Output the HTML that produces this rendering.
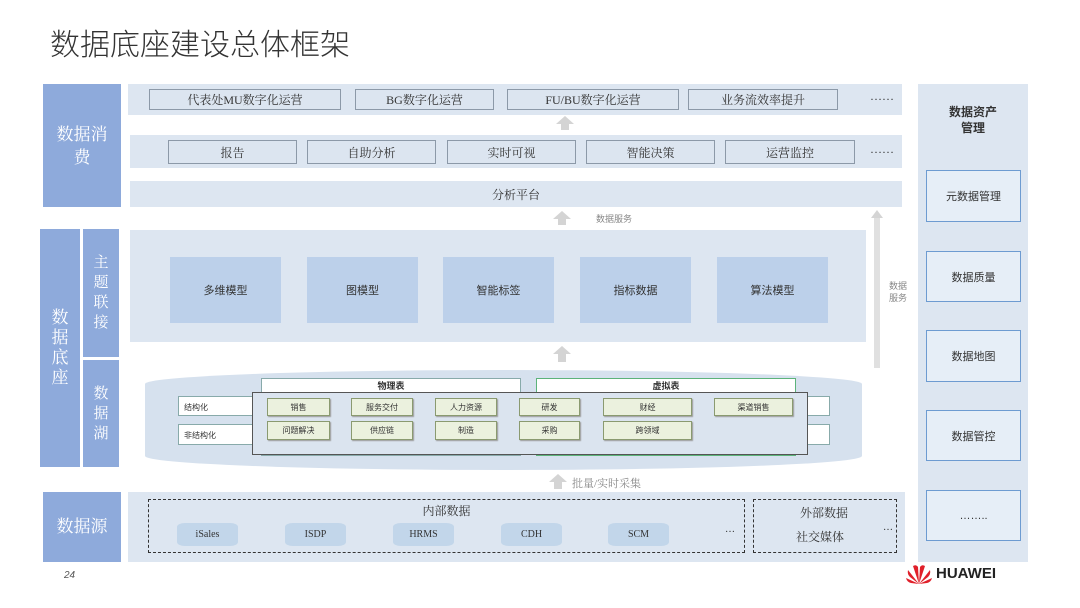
<!DOCTYPE html>
<html><head><meta charset="utf-8"><style>
*{margin:0;padding:0;box-sizing:border-box}
body{width:1080px;height:608px;background:#fff;position:relative;overflow:hidden;font-family:"Liberation Serif","Noto Serif CJK SC",serif;color:#333}
.a{position:absolute}
.lab{position:absolute;background:#8eaadb;color:#fff;display:flex;align-items:center;justify-content:center;text-align:center;font-size:17px;line-height:20px}
.pan{position:absolute;background:#dde6f1}
.bx{position:absolute;background:#dce5f0;border:1px solid #8c99a8;display:flex;align-items:center;justify-content:center;font-size:12px;color:#333}
.mb{position:absolute;background:#bcd0ea;display:flex;align-items:center;justify-content:center;font-size:11px;font-family:"Liberation Sans","Noto Sans CJK SC",sans-serif}
.g{position:absolute;background:#ebf1de;border:1px solid #8a9a70;display:flex;align-items:center;justify-content:center;font-size:8px;font-family:"Liberation Sans","Noto Sans CJK SC",sans-serif;box-shadow:1px 1px 1px #999}
.rb{position:absolute;left:926px;width:95px;border:1px solid #6d9bd1;display:flex;align-items:center;justify-content:center;font-size:11px;font-family:"Liberation Sans","Noto Sans CJK SC",sans-serif;background:#e6eef7}
.cyl{position:absolute;width:61px;height:23px;background:#c2d6ea;border-radius:8px/4px;display:flex;align-items:center;justify-content:center;font-size:10px}
.arr{position:absolute;width:0;height:0;border-left:9px solid transparent;border-right:9px solid transparent;border-bottom:8px solid #d4d4d4}
.arrs{position:absolute;width:8px;height:6px;background:#d4d4d4}
.s{font-family:"Liberation Sans","Noto Sans CJK SC",sans-serif}
</style></head><body>
<div class="a" style="left:50px;top:20px;font-size:30px;color:#333;font-family:'Liberation Sans','Noto Sans CJK SC',sans-serif;font-weight:300">数据底座建设总体框架</div>

<div class="lab" style="left:43px;top:84px;width:78px;height:123px;line-height:23px">数据消<br>费</div>
<div class="lab" style="left:40px;top:229px;width:40px;height:238px">数<br>据<br>底<br>座</div>
<div class="lab" style="left:83px;top:229px;width:36px;height:128px;font-size:15px">主<br>题<br>联<br>接</div>
<div class="lab" style="left:83px;top:360px;width:36px;height:107px;font-size:15px">数<br>据<br>湖</div>
<div class="lab" style="left:43px;top:492px;width:78px;height:70px">数据源</div>

<div class="pan" style="left:128px;top:84px;width:774px;height:31px"></div>
<div class="bx" style="left:149px;top:89px;width:192px;height:21px">代表处MU数字化运营</div>
<div class="bx" style="left:355px;top:89px;width:139px;height:21px">BG数字化运营</div>
<div class="bx" style="left:507px;top:89px;width:172px;height:21px">FU/BU数字化运营</div>
<div class="bx" style="left:688px;top:89px;width:150px;height:21px">业务流效率提升</div>
<div class="a" style="left:870px;top:89px;font-size:12px">……</div>
<div class="arr" style="left:556px;top:116px"></div><div class="arrs" style="left:561px;top:124px"></div>

<div class="pan" style="left:130px;top:135px;width:772px;height:33px"></div>
<div class="bx" style="left:168px;top:140px;width:129px;height:24px">报告</div>
<div class="bx" style="left:307px;top:140px;width:129px;height:24px">自助分析</div>
<div class="bx" style="left:447px;top:140px;width:129px;height:24px">实时可视</div>
<div class="bx" style="left:586px;top:140px;width:129px;height:24px">智能决策</div>
<div class="bx" style="left:725px;top:140px;width:130px;height:24px">运营监控</div>
<div class="a" style="left:870px;top:142px;font-size:12px">……</div>

<div class="pan" style="left:130px;top:181px;width:772px;height:26px;display:flex;align-items:center;justify-content:center;font-size:12px">分析平台</div>
<div class="arr" style="left:553px;top:211px"></div><div class="arrs" style="left:558px;top:219px"></div>
<div class="a s" style="left:596px;top:212px;font-size:9px;color:#888">数据服务</div>

<div class="pan" style="left:130px;top:230px;width:736px;height:112px"></div>
<div class="mb" style="left:170px;top:257px;width:111px;height:66px">多维模型</div>
<div class="mb" style="left:307px;top:257px;width:111px;height:66px">图模型</div>
<div class="mb" style="left:443px;top:257px;width:111px;height:66px">智能标签</div>
<div class="mb" style="left:580px;top:257px;width:111px;height:66px">指标数据</div>
<div class="mb" style="left:717px;top:257px;width:111px;height:66px">算法模型</div>
<div class="a" style="left:871px;top:210px;width:0;height:0;border-left:6px solid transparent;border-right:6px solid transparent;border-bottom:8px solid #d4d4d4"></div>
<div class="a" style="left:874px;top:218px;width:6px;height:150px;background:#e0e0e0"></div>
<div class="a s" style="left:889px;top:280px;font-size:9px;color:#888;line-height:12px">数据<br>服务</div>
<div class="arr" style="left:553px;top:346px"></div><div class="arrs" style="left:558px;top:354px;height:8px"></div>

<div class="a" style="left:145px;top:370px;width:717px;height:100px;border-radius:50%/14px;background:#d6e1ee"></div>
<div class="a" style="left:261px;top:378px;width:260px;height:78px;background:#fff;border:1px solid #8aa;"></div>
<div class="a s" style="left:261px;top:379px;width:260px;text-align:center;font-size:9px;font-weight:bold">物理表</div>
<div class="a" style="left:536px;top:378px;width:260px;height:78px;background:#fff;border:1px solid #5cb37a"></div>
<div class="a s" style="left:536px;top:379px;width:260px;text-align:center;font-size:9px;font-weight:bold">虚拟表</div>
<div class="a s" style="left:178px;top:396px;width:652px;height:20px;background:#fff;border:1px solid #8aa;font-size:8px;padding:5px 0 0 5px">结构化</div>
<div class="a s" style="left:178px;top:424px;width:652px;height:21px;background:#fff;border:1px solid #8aa;font-size:8px;padding:5px 0 0 5px">非结构化</div>
<div class="a" style="left:252px;top:392px;width:556px;height:63px;background:#dbe4ef;border:1px solid #555"></div>
<div class="g" style="left:267px;top:398px;width:63px;height:18px">销售</div>
<div class="g" style="left:351px;top:398px;width:62px;height:18px">服务交付</div>
<div class="g" style="left:435px;top:398px;width:62px;height:18px">人力资源</div>
<div class="g" style="left:519px;top:398px;width:61px;height:18px">研发</div>
<div class="g" style="left:603px;top:398px;width:89px;height:18px">财经</div>
<div class="g" style="left:714px;top:398px;width:79px;height:18px">渠道销售</div>
<div class="g" style="left:267px;top:421px;width:63px;height:19px">问题解决</div>
<div class="g" style="left:351px;top:421px;width:62px;height:19px">供应链</div>
<div class="g" style="left:435px;top:421px;width:62px;height:19px">制造</div>
<div class="g" style="left:519px;top:421px;width:61px;height:19px">采购</div>
<div class="g" style="left:603px;top:421px;width:89px;height:19px">跨领域</div>

<div class="arr" style="left:549px;top:474px"></div><div class="arrs" style="left:554px;top:482px;height:7px"></div>
<div class="a" style="left:572px;top:475px;font-size:11px;color:#888">批量/实时采集</div>

<div class="pan" style="left:128px;top:492px;width:777px;height:70px"></div>
<div class="a" style="left:148px;top:499px;width:597px;height:54px;border:1px dashed #333"></div>
<div class="a" style="left:148px;top:502px;width:597px;text-align:center;font-size:12px">内部数据</div>
<div class="cyl" style="left:177px;top:523px">iSales</div>
<div class="cyl" style="left:285px;top:523px">ISDP</div>
<div class="cyl" style="left:393px;top:523px">HRMS</div>
<div class="cyl" style="left:501px;top:523px">CDH</div>
<div class="cyl" style="left:608px;top:523px">SCM</div>
<div class="a" style="left:725px;top:524px;font-size:10px">…</div>
<div class="a" style="left:753px;top:499px;width:144px;height:54px;border:1px dashed #333"></div>
<div class="a" style="left:800px;top:504px;font-size:12px">外部数据</div>
<div class="a" style="left:796px;top:528px;font-size:12px">社交媒体</div>
<div class="a" style="left:883px;top:522px;font-size:10px">…</div>

<div class="pan" style="left:918px;top:84px;width:110px;height:478px"></div>
<div class="a s" style="left:918px;top:104px;width:110px;text-align:center;font-size:12px;font-weight:bold;line-height:16px">数据资产<br>管理</div>
<div class="rb" style="top:170px;height:52px">元数据管理</div>
<div class="rb" style="top:251px;height:51px">数据质量</div>
<div class="rb" style="top:330px;height:52px">数据地图</div>
<div class="rb" style="top:410px;height:51px">数据管控</div>
<div class="rb" style="top:490px;height:51px">……..</div>

<div class="a s" style="left:64px;top:570px;font-size:10px;font-style:italic;color:#555">24</div>
<svg class="a" style="left:904px;top:563px" width="30" height="22" viewBox="0 0 30 22"><g fill="#e0202a"><path d="M15 21 L9 3 Q12 1 14 4Z"/><path d="M15 21 L21 3 Q18 1 16 4Z"/><path d="M15 21 L4 7 Q3 11 6 14Z"/><path d="M15 21 L26 7 Q27 11 24 14Z"/><path d="M15 21 L2 15 Q3 19 7 20Z"/><path d="M15 21 L28 15 Q27 19 23 20Z"/></g></svg>
<div class="a s" style="left:936px;top:565px;font-size:15px;font-weight:bold;color:#222">HUAWEI</div>
</body></html>
